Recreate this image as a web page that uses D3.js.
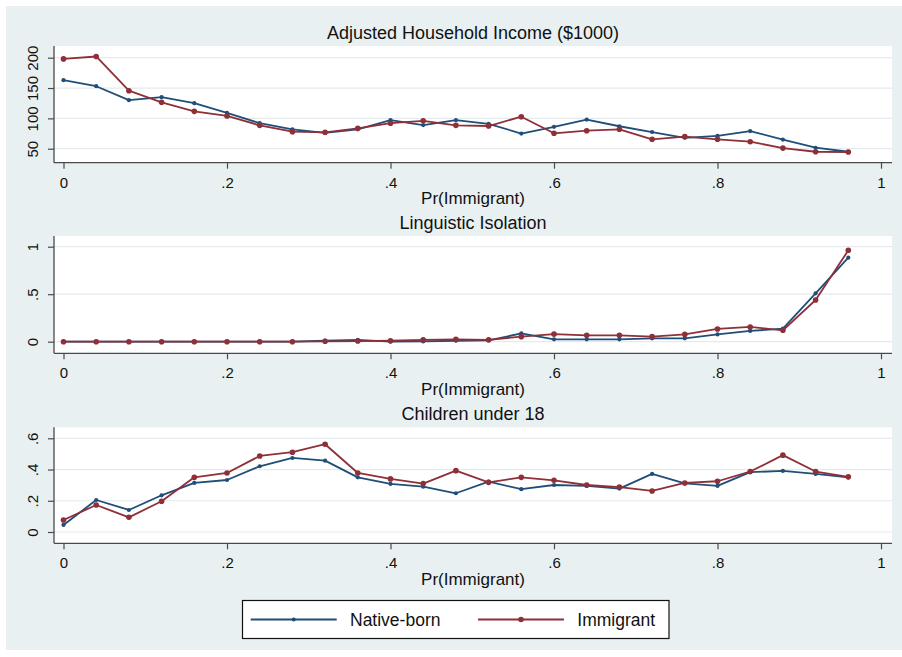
<!DOCTYPE html>
<html>
<head>
<meta charset="utf-8">
<script src="https://cdn.jsdelivr.net/npm/d3@7"></script>
<style>
  body { margin: 0; background: #ffffff; }
  svg { display: block; }
  text { font-family: "Liberation Sans", Arial, Helvetica, sans-serif; fill: #111; }
</style>
</head>
<body>
<svg id="chart" width="902" height="657"></svg>
<script>
// Bins of Pr(Immigrant)
const xValues = [0, .04, .08, .12, .16, .20, .24, .28, .32, .36, .40, .44, .48,
                 .52, .56, .60, .64, .68, .72, .76, .80, .84, .88, .92, .96];
const xTicks = [0, .2, .4, .6, .8, 1];
const xTickLabels = ["0", ".2", ".4", ".6", ".8", "1"];
const xAxisTitle = "Pr(Immigrant)";

// Adjusted household income ($1000)
const incomeNative    = [163, 153, 130, 135, 125, 109, 92, 82, 76, 82, 97, 89, 97,
                         91, 75, 86, 98, 87, 77.5, 68, 71, 79, 65, 51.6, 45];
const incomeImmigrant = [198, 202, 145.6, 126.5, 111.6, 104, 88.5, 78, 77, 83.6, 92, 96, 88.5,
                         87.4, 102.7, 75.4, 79.7, 82, 65.5, 70, 65.5, 61.5, 51, 45, 44.6];
const incomeTicks = [50, 100, 150, 200];
const incomeTickLabels = ["50", "100", "150", "200"];

// Linguistic isolation (share)
const isolationNative    = [0, 0, 0, 0, 0, 0, 0, 0, 0.012, 0.02, 0.0, 0.003, 0.01,
                            0.013, 0.088, 0.025, 0.025, 0.025, 0.036, 0.036, 0.077, 0.113, 0.137, 0.509, 0.884];
const isolationImmigrant = [0, 0, 0, 0, 0, 0, 0, 0, 0.004, 0.007, 0.01, 0.02, 0.025,
                            0.02, 0.053, 0.08, 0.067, 0.067, 0.053, 0.077, 0.134, 0.155, 0.12, 0.439, 0.962];
const isolationTicks = [0, .5, 1];
const isolationTickLabels = ["0", ".5", "1"];

// Children under 18 (share)
const childrenNative    = [0.045, 0.205, 0.141, 0.235, 0.314, 0.333, 0.421, 0.474, 0.457, 0.35, 0.308, 0.29, 0.248,
                           0.322, 0.274, 0.301, 0.295, 0.278, 0.372, 0.312, 0.295, 0.383, 0.391, 0.372, 0.35];
const childrenImmigrant = [0.077, 0.173, 0.094, 0.197, 0.35, 0.378, 0.487, 0.511, 0.562, 0.378, 0.34, 0.31, 0.393,
                           0.318, 0.35, 0.331, 0.301, 0.288, 0.263, 0.314, 0.325, 0.387, 0.492, 0.387, 0.353];
const childrenTicks = [0, .2, .4, .6];
const childrenTickLabels = ["0", ".2", ".4", ".6"];

const seriesNames = ["Native-born", "Immigrant"];
const seriesColors = ["#1f4e79", "#8f2f38"];

const panels = [
  { title: "Adjusted Household Income ($1000)", native: incomeNative, immigrant: incomeImmigrant,
    ticks: incomeTicks, tickLabels: incomeTickLabels,
    top: 46, bottom: 162.7, firstTickY: 148.7, lastTickY: 57.7 },
  { title: "Linguistic Isolation", native: isolationNative, immigrant: isolationImmigrant,
    ticks: isolationTicks, tickLabels: isolationTickLabels,
    top: 236, bottom: 353.3, firstTickY: 341.7, lastTickY: 246.7 },
  { title: "Children under 18", native: childrenNative, immigrant: childrenImmigrant,
    ticks: childrenTicks, tickLabels: childrenTickLabels,
    top: 427.3, bottom: 543.3, firstTickY: 532, lastTickY: 438.3 }
];

const svg = d3.select("#chart");
const W = 902, H = 657;

// Graph region background
svg.append("rect").attr("x", 6).attr("y", 6).attr("width", W - 6).attr("height", H - 13)
  .attr("fill", "#e8f0f2");

const regionLeft = 54, regionRight = 892;
const x = d3.scaleLinear().domain([0, 1]).range([63.5, 881]);
const cx = (regionLeft + regionRight) / 2;
const axisColor = "#4a4a4a";

panels.forEach(p => {
  const y = d3.scaleLinear()
    .domain([p.ticks[0], p.ticks[p.ticks.length - 1]])
    .range([p.firstTickY, p.lastTickY]);
  const g = svg.append("g");

  // Plot region
  g.append("rect").attr("x", regionLeft).attr("y", p.top)
    .attr("width", regionRight - regionLeft).attr("height", p.bottom - p.top)
    .attr("fill", "#ffffff");

  // Gridlines
  g.selectAll("line.grid").data(p.ticks).join("line").attr("class", "grid")
    .attr("x1", regionLeft).attr("x2", regionRight)
    .attr("y1", d => y(d)).attr("y2", d => y(d))
    .attr("stroke", "#e3ebee").attr("stroke-width", 1.2);

  // Y axis
  const yAxis = d3.axisLeft(y).tickValues(p.ticks)
    .tickFormat((d, i) => p.tickLabels[i]).tickSize(6).tickPadding(0);
  const ya = g.append("g").attr("transform", `translate(${regionLeft},0)`).call(yAxis);
  ya.select(".domain").remove();
  ya.selectAll(".tick line").attr("stroke", axisColor).attr("stroke-width", 1.2);
  ya.selectAll(".tick text")
    .attr("transform", "rotate(-90)")
    .attr("x", 0).attr("y", -16.3)
    .attr("dy", 0)
    .attr("text-anchor", "middle")
    .style("font-size", "15px").style("fill", "#111");
  g.append("line").attr("x1", regionLeft).attr("x2", regionLeft)
    .attr("y1", p.top).attr("y2", p.bottom)
    .attr("stroke", axisColor).attr("stroke-width", 1.3);

  // X axis
  const xAxis = d3.axisBottom(x).tickValues(xTicks)
    .tickFormat((d, i) => xTickLabels[i]).tickSize(6).tickPadding(0);
  const xa = g.append("g").attr("transform", `translate(0,${p.bottom})`).call(xAxis);
  xa.select(".domain").remove();
  xa.selectAll(".tick line").attr("stroke", axisColor).attr("stroke-width", 1.2);
  xa.selectAll(".tick text").attr("y", 25).attr("dy", 0)
    .style("font-size", "15px").style("fill", "#111");
  g.append("line").attr("x1", regionLeft).attr("x2", regionRight)
    .attr("y1", p.bottom).attr("y2", p.bottom)
    .attr("stroke", axisColor).attr("stroke-width", 1.3);

  // Axis title and panel title
  g.append("text").attr("x", cx).attr("y", p.bottom + 41.5)
    .attr("text-anchor", "middle").style("font-size", "17px").text(xAxisTitle);
  g.append("text").attr("x", cx).attr("y", p.top - 7)
    .attr("text-anchor", "middle").style("font-size", "18px").text(p.title);

  // Series: native-born first, immigrant drawn on top
  const line = d3.line().x((d, i) => x(xValues[i])).y(d => y(d));
  [p.native, p.immigrant].forEach((vals, s) => {
    g.append("path").datum(vals).attr("d", line)
      .attr("fill", "none").attr("stroke", seriesColors[s])
      .attr("stroke-width", 1.8).attr("stroke-linejoin", "round");
    g.selectAll(null).data(vals).join("circle")
      .attr("cx", (d, i) => x(xValues[i])).attr("cy", d => y(d))
      .attr("r", s === 0 ? 2.1 : 2.8)
      .attr("fill", seriesColors[s]);
  });
});

// Legend
const lg = svg.append("g");
lg.append("rect").attr("x", 242.5).attr("y", 600.5).attr("width", 426.5).attr("height", 38)
  .attr("fill", "#ffffff").attr("stroke", "#111").attr("stroke-width", 1.2);
const legendItems = [
  { x1: 250.7, x2: 336.7, tx: 350 },
  { x1: 478, x2: 564, tx: 577.3 }
];
legendItems.forEach((it, s) => {
  const ly = 619.5;
  lg.append("line").attr("x1", it.x1).attr("x2", it.x2).attr("y1", ly).attr("y2", ly)
    .attr("stroke", seriesColors[s]).attr("stroke-width", 1.8);
  lg.append("circle").attr("cx", (it.x1 + it.x2) / 2).attr("cy", ly)
    .attr("r", s === 0 ? 2.1 : 2.8).attr("fill", seriesColors[s]);
  lg.append("text").attr("x", it.tx).attr("y", ly + 6.3)
    .style("font-size", "17.5px").text(seriesNames[s]);
});
</script>
</body>
</html>
